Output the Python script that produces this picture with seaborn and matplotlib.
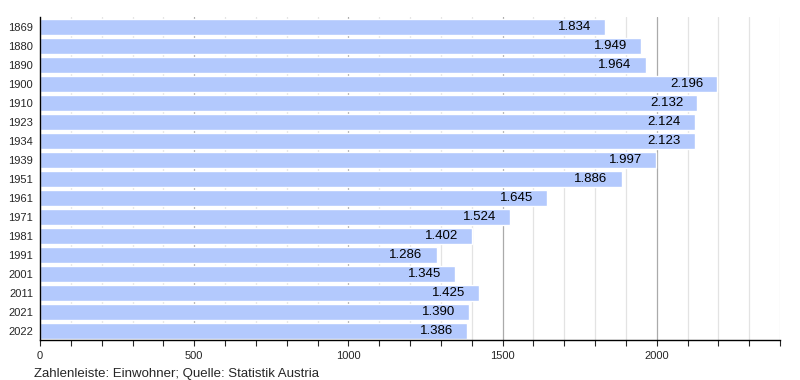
import numpy as np
import pandas as pd
import matplotlib.pyplot as plt
import seaborn as sns

years = ['1869', '1880', '1890', '1900', '1910', '1923', '1934', '1939', '1951',
         '1961', '1971', '1981', '1991', '2001', '2011', '2021', '2022']
population = [1834, 1949, 1964, 2196, 2132, 2124, 2123, 1997, 1886,
              1645, 1524, 1402, 1286, 1345, 1425, 1390, 1386]
caption = 'Zahlenleiste: Einwohner; Quelle: Statistik Austria'

df = pd.DataFrame({'Jahr': years, 'Einwohner': population})

sns.set_style('white')
plt.rcParams['font.family'] = ['Liberation Sans', 'DejaVu Sans']

fig = plt.figure(figsize=(8, 3.8), dpi=100)
ax = fig.add_axes([0.05, 0.105, 0.925, 0.85])

# grid: light every 100, darker every 500
for x in range(100, 2500, 100):
    ax.axvline(x, color='#aaaaaa' if x % 500 == 0 else '#e3e3e3', linewidth=0.9, zorder=0)

sns.barplot(data=df, x='Einwohner', y='Jahr', orient='h', color='#b3c9fd',
            saturation=1, width=0.85, ax=ax, zorder=2)

for i, v in enumerate(population):
    label = '{:,}'.format(v).replace(',', '.')
    ax.text(v - 45, i, label, ha='right', va='center', fontsize=9.5, color='#000000', zorder=3)

ax.set_xlim(0, 2400)
ax.set_ylim(len(years) - 0.5, -0.5)
ax.set_xticks([0, 500, 1000, 1500, 2000])
ax.set_xticks(range(0, 2500, 100), minor=True)
ax.tick_params(axis='x', which='both', direction='out', length=4, width=0.8, labelsize=8, pad=4, bottom=True)
ax.tick_params(axis='y', length=0, labelsize=8, pad=5)
ax.set_xlabel('')
ax.set_ylabel('')
for s in ['top', 'right']:
    ax.spines[s].set_visible(False)
ax.spines['left'].set_color('black')
ax.spines['bottom'].set_color('black')
ax.spines['left'].set_linewidth(1)
ax.spines['bottom'].set_linewidth(1)

fig.text(0.043, 0.0, caption, fontsize=9.5, ha='left', va='bottom')

fig.savefig('out.png', dpi=100)
